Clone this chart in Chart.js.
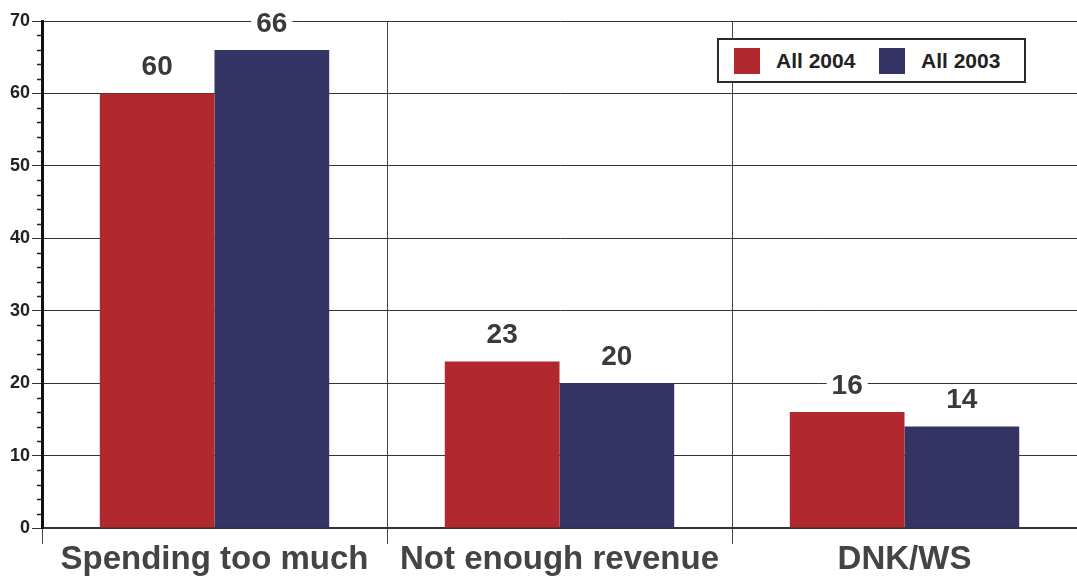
<!DOCTYPE html>
<html>
<head>
<meta charset="utf-8">
<script src="https://cdn.jsdelivr.net/npm/chart.js@4/dist/chart.umd.min.js"></script>
<style>
  html, body { margin: 0; padding: 0; background: #fff; }
  #wrap { position: relative; width: 1077px; height: 580px; }
  #legend {
    position: absolute; left: 717px; top: 38px; width: 305px; height: 41px;
    border: 2px solid #2a2a2a; background: #fff;
    font: bold 21px "Liberation Sans", Arial, sans-serif; color: #222;
  }
  #legend span.sw { position: absolute; top: 8px; width: 26px; height: 26px; }
  #legend span.tx { position: absolute; top: 8px; line-height: 26px; }
</style>
</head>
<body>
<div id="wrap">
  <canvas id="chart" width="1077" height="580"></canvas>
  <div id="legend">
    <span class="sw" style="left:15px;background:#b1282f"></span><span class="tx" style="left:57px">All 2004</span>
    <span class="sw" style="left:160px;background:#333463"></span><span class="tx" style="left:202px">All 2003</span>
  </div>
</div>
<script>
// chart data
const categories = ['Spending too much', 'Not enough revenue', 'DNK/WS'];
const all2004 = [60, 23, 16];
const all2003 = [66, 20, 14];
const yTicks = [0, 10, 20, 30, 40, 50, 60, 70];
const minorTicks = [2, 4, 6, 8, 12, 14, 16, 18, 22, 24, 26, 28, 32, 34, 36, 38, 42, 44, 46, 48, 52, 54, 56, 58, 62, 64, 66, 68];

const FONT = '"Liberation Sans", Arial, sans-serif';

// minor tick marks on the y axis
const minorTickPlugin = {
  id: 'minorTicks',
  afterDraw(chart) {
    const y = chart.scales.y;
    const ctx = chart.ctx;
    const x0 = chart.chartArea.left;
    ctx.save();
    ctx.strokeStyle = '#222';
    ctx.lineWidth = 1.5;
    minorTicks.forEach(v => {
      const py = Math.round(y.getPixelForValue(v)) + 0.5;
      ctx.beginPath();
      ctx.moveTo(x0 - 5, py);
      ctx.lineTo(x0, py);
      ctx.stroke();
    });
    ctx.restore();
  }
};

// value labels above bars, on white boxes
const valueLabelPlugin = {
  id: 'valueLabels',
  afterDatasetsDraw(chart) {
    const ctx = chart.ctx;
    ctx.save();
    ctx.font = 'bold 28px ' + FONT;
    ctx.textAlign = 'center';
    ctx.textBaseline = 'middle';
    chart.data.datasets.forEach((ds, i) => {
      chart.getDatasetMeta(i).data.forEach((bar, j) => {
        const txt = String(ds.data[j]);
        const w = ctx.measureText(txt).width;
        const cy = bar.y - 27;
        ctx.fillStyle = '#fff';
        ctx.fillRect(bar.x - w / 2 - 5, cy - 12, w + 10, 24);
        ctx.fillStyle = '#3a3a3a';
        ctx.fillText(txt, bar.x, cy + 1);
      });
    });
    ctx.restore();
  }
};

new Chart(document.getElementById('chart'), {
  type: 'bar',
  data: {
    labels: categories,
    datasets: [
      { label: 'All 2004', data: all2004, backgroundColor: '#b1282f', borderWidth: 0 },
      { label: 'All 2003', data: all2003, backgroundColor: '#333463', borderWidth: 0 }
    ]
  },
  options: {
    responsive: false,
    animation: false,
    devicePixelRatio: 1,
    layout: { padding: { top: 21, right: 0, left: 0, bottom: 0 } },
    categoryPercentage: 0.665,
    barPercentage: 1,
    plugins: {
      legend: { display: false },
      tooltip: { enabled: false }
    },
    scales: {
      x: {
        grid: { offset: true, color: '#444', lineWidth: 1, tickLength: 16, drawTicks: true },
        border: { color: '#333', width: 2 },
        ticks: { color: '#444', font: { family: FONT, size: 33, weight: 'bold' }, padding: -4 },
        afterFit(s) { s.height = 52; }
      },
      y: {
        min: 0, max: 70,
        afterBuildTicks(s) { s.ticks = yTicks.map(v => ({ value: v })); },
        grid: { color: '#333', lineWidth: 1, tickLength: 10 },
        border: { color: '#111', width: 3 },
        ticks: { color: '#222', font: { family: FONT, size: 18, weight: 'bold' }, padding: 2 },
        afterFit(s) { s.width = 42; }
      }
    }
  },
  plugins: [minorTickPlugin, valueLabelPlugin]
});
</script>
</body>
</html>
